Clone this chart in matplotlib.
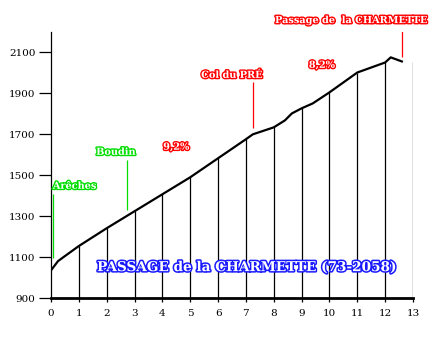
import matplotlib.pyplot as plt
import matplotlib.patheffects as pe
import numpy as np

# profil du col
km = [0, 0.25, 0.45, 1, 2, 3, 4, 5, 6, 7, 7.25, 8, 8.4, 8.65, 9, 9.4, 10, 11, 12, 12.2, 12.6]
alt = [1035, 1080, 1100, 1154, 1241, 1324, 1407, 1490, 1583, 1676, 1700, 1734, 1768, 1802,
       1827, 1851, 1905, 2002, 2051, 2076, 2056]
km_ticks = list(range(0, 14))
alt_ticks = [900, 1100, 1300, 1500, 1700, 1900, 2100]
last_post = 2055  # trait a km 13

# etiquettes : texte, x, y, couleur, trait (x, y0, y1)
labels = [
    ("Arêches", 0.85, 1446, "#00dd00", (0.07, 1095, 1407)),
    ("Boudin", 2.33, 1612, "#00dd00", (2.73, 1329, 1573)),
    ("9,2%", 4.5, 1637, "red", None),
    ("Col du PRÉ", 6.5, 1988, "red", (7.25, 1729, 1954)),
    ("8,2%", 9.73, 2037, "red", None),
    ("Passage de  la CHARMETTE", 10.8, 2256, "red", (12.6, 2076, 2222)),
]
titre = "PASSAGE de la CHARMETTE (73-2058)"

fig = plt.figure(figsize=(4.43, 3.38), dpi=100)
ax = fig.add_axes([51/443, 40/338, 362/443, 266/338])

ax.plot(km, alt, color="black", lw=1.6, zorder=3)
posts = km_ticks[1:-1]
ax.vlines(posts, 900, np.interp(posts, km, alt), color="black", lw=0.9)
ax.vlines(km_ticks[-1], 900, last_post, color="black", lw=0.9)

stroke = lambda c, w: [pe.withStroke(linewidth=w, foreground=c)]
for txt, x, y, c, line in labels:
    ax.text(x, y, txt, color="white", fontsize=7, fontweight="bold", family="DejaVu Serif",
            ha="center", va="center", path_effects=stroke(c, 2), clip_on=False)
    if line:
        ax.vlines(line[0], line[1], line[2], color=c, lw=0.9)

ax.text(7.04, 1051, titre, color="white", fontsize=9.8, fontweight="bold", family="DejaVu Serif",
        ha="center", va="center", path_effects=stroke("#1a1aff", 2.2), zorder=4)

ax.set_xlim(0, 13)
ax.set_ylim(900, 2200)
ax.set_xticks(km_ticks)
ax.set_yticks(alt_ticks)
ax.spines["top"].set_visible(False)
ax.spines["right"].set_visible(False)
ax.spines["bottom"].set_linewidth(2)
ax.spines["left"].set_linewidth(0.9)
ax.tick_params(axis="y", length=9, width=0.9, pad=2, labelsize=7.5)
ax.tick_params(axis="x", length=3, width=0.9, pad=5, labelsize=7.5)
for t in ax.get_xticklabels() + ax.get_yticklabels():
    t.set_family("DejaVu Serif")

fig.savefig("out.png", dpi=100)
